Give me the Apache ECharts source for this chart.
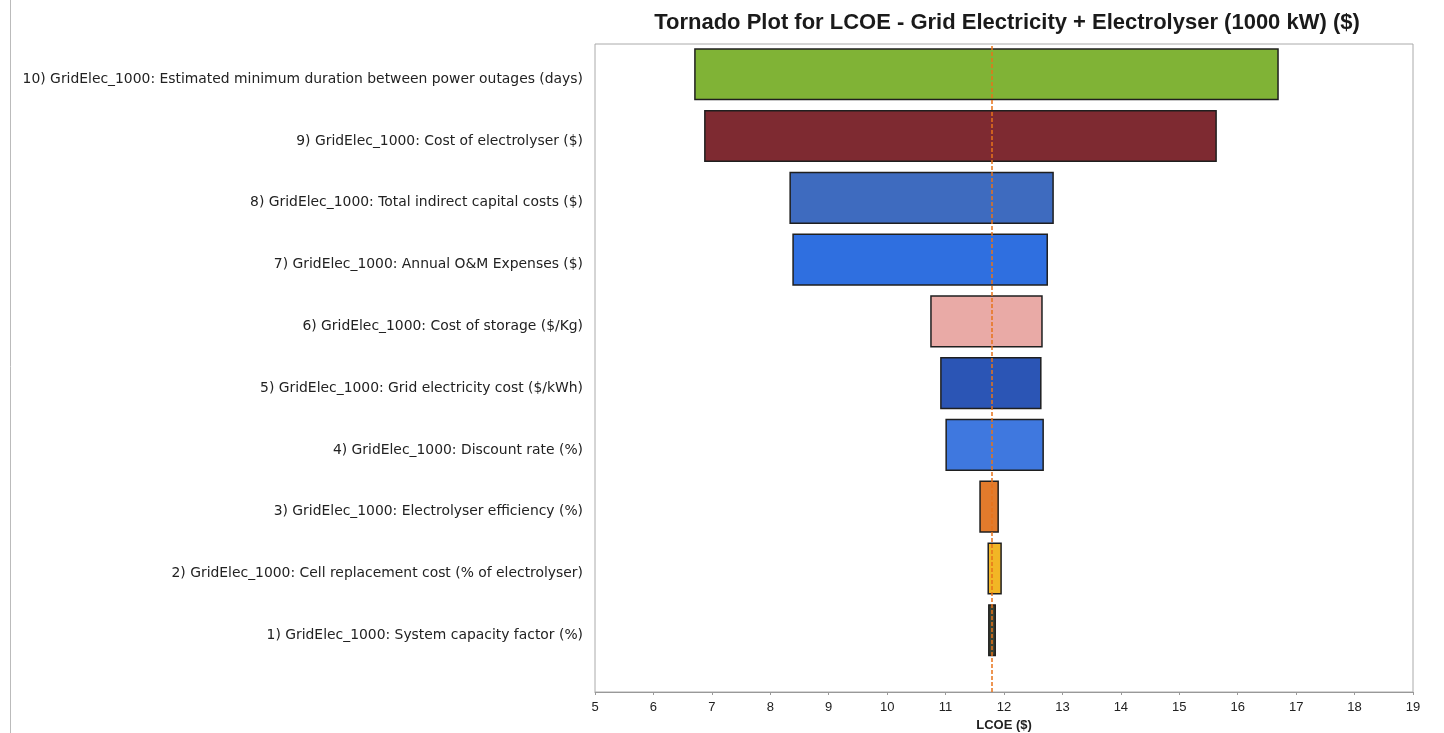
<!DOCTYPE html>
<html>
<head>
<meta charset="utf-8">
<script src="https://cdn.jsdelivr.net/npm/echarts@6/dist/echarts.min.js"></script>
<style>
  html, body { margin: 0; padding: 0; background: #fff; }
  #chart { width: 1444px; height: 733px; }
</style>
</head>
<body>
<div id="chart"></div>
<script>
// drivers, bottom (1) to top (10)
const labels = [
  '1) GridElec_1000: System capacity factor (%)',
  '2) GridElec_1000: Cell replacement cost (% of electrolyser)',
  '3) GridElec_1000: Electrolyser efficiency (%)',
  '4) GridElec_1000: Discount rate (%)',
  '5) GridElec_1000: Grid electricity cost ($/kWh)',
  '6) GridElec_1000: Cost of storage ($/Kg)',
  '7) GridElec_1000: Annual O&M Expenses ($)',
  '8) GridElec_1000: Total indirect capital costs ($)',
  '9) GridElec_1000: Cost of electrolyser ($)',
  '10) GridElec_1000: Estimated minimum duration between power outages (days)'
]
const lowValues = [11.74, 11.73, 11.59, 11.01, 10.92, 10.75, 8.39, 8.34, 6.88, 6.71]
const highValues = [11.85, 11.95, 11.90, 12.67, 12.63, 12.65, 12.74, 12.84, 15.63, 16.69]
const barColors = ['#3b4233', '#f2b625', '#e27b2c', '#3f78df', '#2b55b5', '#e9aaa6', '#2f6fe0', '#3e6bbf', '#7e2a31', '#80b336']
const baseValue = 11.79

const rows = labels.map((_, i) => [i + 1, lowValues[i], highValues[i]])

const chart = echarts.init(document.getElementById('chart'))
chart.setOption({
  animation: false,
  title: {
    text: 'Tornado Plot for LCOE - Grid Electricity + Electrolyser (1000 kW) ($)',
    left: 1002,
    textAlign: 'center',
    top: 7,
    textStyle: { fontFamily: 'Liberation Sans', fontSize: 22, fontWeight: 'bold', color: '#1a1a1a' }
  },
  grid: {
    left: 595, right: 31, top: 44, bottom: 41,
    outerBoundsMode: 'none',
    containLabel: false,
    show: true, borderColor: '#aaa', borderWidth: 1
  },
  xAxis: {
    type: 'value',
    min: 5, max: 19, interval: 1,
    name: 'LCOE ($)',
    nameLocation: 'middle',
    nameGap: 25,
    nameTextStyle: { fontFamily: 'Liberation Sans', fontSize: 13, fontWeight: 'bold', color: '#222' },
    axisLine: { show: true, lineStyle: { color: '#999' } },
    axisTick: { show: true, length: 3, lineStyle: { color: '#999' } },
    axisLabel: { fontFamily: 'Liberation Sans', fontSize: 13, color: '#222', margin: 9 },
    splitLine: { show: false }
  },
  yAxis: {
    type: 'value',
    min: 0, max: 10.49, interval: 1,
    axisLine: { show: false },
    axisTick: { show: false },
    splitLine: { show: false },
    axisLabel: {
      fontFamily: 'DejaVu Sans', fontSize: 13.9, color: '#222', margin: 12,
      verticalAlign: 'top', lineHeight: 10,
      formatter: (v) => labels[v - 1] || ''
    }
  },
  graphic: [
    { type: 'line', shape: { x1: 10.5, y1: 0, x2: 10.5, y2: 733 }, style: { stroke: '#bbb', lineWidth: 1 } }
  ],
  series: [
    {
      type: 'custom',
      data: rows,
      encode: { x: [1, 2], y: 0 },
      renderItem: (params, api) => {
        const y = api.value(0)
        const p1 = api.coord([api.value(1), y + 0.41])
        const p2 = api.coord([api.value(2), y - 0.41])
        return {
          type: 'rect',
          shape: { x: p1[0], y: p1[1], width: p2[0] - p1[0], height: p2[1] - p1[1] },
          style: { fill: barColors[params.dataIndex], stroke: '#1f1f1f', lineWidth: 1.5 }
        }
      },
      markLine: {
        silent: true,
        z: 10,
        symbol: 'none',
        label: { show: false },
        lineStyle: { color: '#e8731a', type: [4, 2], width: 1.5, opacity: 1 },
        data: [{ xAxis: baseValue, lineStyle: { color: '#e8731a' } }]
      }
    }
  ]
})
</script>
</body>
</html>
